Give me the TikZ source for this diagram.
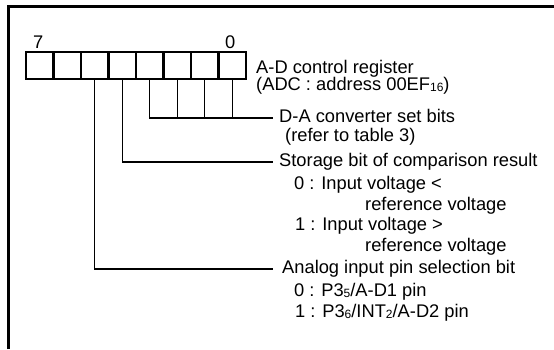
\documentclass[tikz,border=0pt]{standalone}
\usepackage{fontspec}
\setmainfont{Liberation Sans}
\usepackage{tikz}
\newcommand{\lowsub}[1]{\raisebox{-1pt}{\fontsize{12}{12}\selectfont #1}}
\tikzset{
  bitcell/.style={draw, line width=2.4pt, minimum width=27.5pt, minimum height=27pt, inner sep=0pt},
  wire/.style={line width=1.4pt},
  txt/.style={anchor=west, inner sep=0pt, text height=13pt, text depth=3.5pt, font=\fontsize{18.3}{20}\selectfont},
}
\begin{document}
\begin{tikzpicture}[x=1pt,y=-1pt]
        \useasboundingbox (0,0) rectangle (554,349);
        \draw[line width=3pt](8, 349) -- (8, 6) -- (554, 6);
        \foreach \i in {0,...,7} {
            \pgfmathtruncatemacro{\b}{7-\i}
            \node[bitcell] (bit\b) at ({39.75+27.5*\i}, 65.5) {};
        }
        \node[txt] (num7) at (33, 44) {7};
        \node[txt] (num0) at (225, 44) {0};
        \node[txt] (regname) at (256, 69) {A-D control register};
        \node[txt] (regaddr) at (256, 86) {(ADC : address 00EF\lowsub{16})};
        \node[txt] (da) at (279, 118) {D-A converter set bits};
        \node[txt] (daref) at (285, 137) {(refer to table 3)};
        \node[txt] (stor) at (279, 162) {Storage bit of comparison result};
        \node[txt] (stor0) at (294, 185) {0 : Input voltage <};
        \node[txt] (stor0b) at (365, 206) {reference voltage};
        \node[txt] (stor1) at (295, 226) {1 : Input voltage >};
        \node[txt] (stor1b) at (365, 247) {reference voltage};
        \node[txt] (ana) at (282, 269) {Analog input pin selection bit};
        \node[txt] (ana0) at (294, 292) {0 : P3\lowsub{5}/A-D1 pin};
        \node[txt] (ana1) at (295, 313) {1 : P3\lowsub{6}/INT\lowsub{2}/A-D2 pin};
        \draw[wire, shorten >=6pt](bit3.south) |- (da.west);
        \foreach \b in {2,1,0} \draw[wire](bit\b.south) -- (bit\b.south |- da.west);
        \draw[wire, shorten >=6pt](bit4.south) |- (stor.west);
        \draw[wire, shorten >=9pt](bit5.south) |- (ana.west);
    \end{tikzpicture}
\end{document}
